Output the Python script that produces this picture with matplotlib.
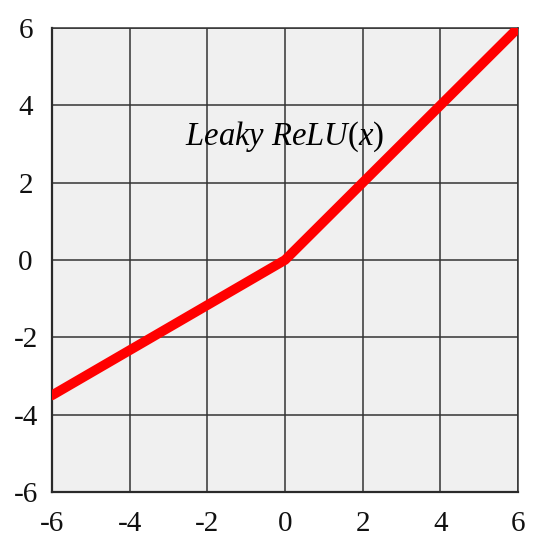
import matplotlib
matplotlib.use("Agg")
import matplotlib.pyplot as plt

# data
x_vals = [-6, 0, 6]
y_vals = [-3.5, 0, 6]
ticks = [-6, -4, -2, 0, 2, 4, 6]
tick_labels = ["-6", "-4", "-2", "0", "2", "4", "6"]
label_text = r"$\mathit{Leaky}\ \mathit{ReLU}(x)$"

plt.rcParams["font.family"] = ["Liberation Serif", "DejaVu Serif"]
plt.rcParams["mathtext.fontset"] = "custom"
plt.rcParams["mathtext.it"] = "Liberation Serif:italic"
plt.rcParams["mathtext.rm"] = "Liberation Serif"

fig = plt.figure(figsize=(5.47, 5.50), dpi=100)
ax = fig.add_axes([52 / 547, 1 - 492 / 550, 466 / 547, 464 / 550])
ax.set_facecolor("#f0f0f0")

ax.plot(x_vals, y_vals, color="#ff0000", linewidth=7, solid_capstyle="round", zorder=3)

ax.set_xlim(-6, 6)
ax.set_ylim(-6, 6)
ax.set_xticks(ticks)
ax.set_xticklabels(tick_labels)
ax.set_yticks(ticks)
ax.set_yticklabels(tick_labels, ha="center")
ax.tick_params(length=0, labelsize=21, colors="#111111")
ax.tick_params(axis="x", pad=14)
ax.tick_params(axis="y", pad=19)
ax.grid(True, color="#333333", linewidth=1.1)
for side in ("top", "right"):
    ax.spines[side].set_color("#333333")
    ax.spines[side].set_linewidth(1.1)
for side in ("left", "bottom"):
    ax.spines[side].set_color("#2a2a2a")
    ax.spines[side].set_linewidth(1.6)

ax.text(0.0, 3.2, label_text, fontsize=23.5, ha="center", va="center")

fig.savefig("out.png", dpi=100)
